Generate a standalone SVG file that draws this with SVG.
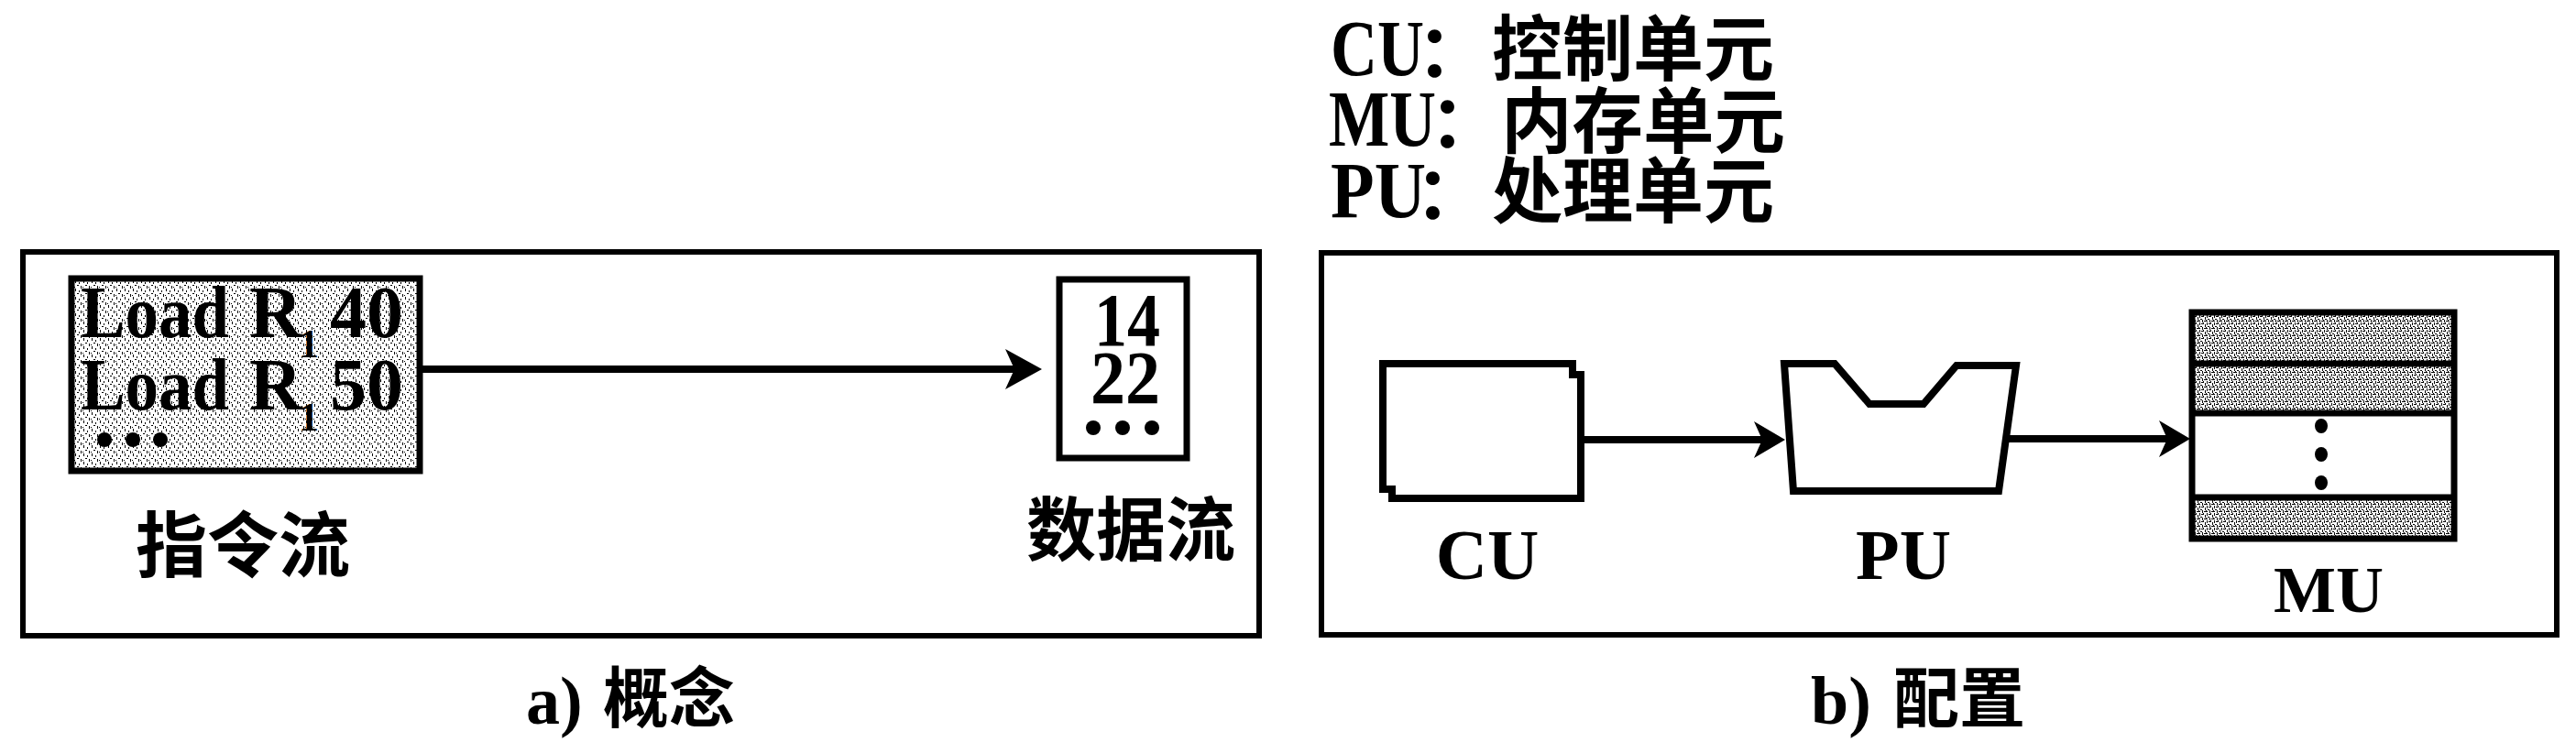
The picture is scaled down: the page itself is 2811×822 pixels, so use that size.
<svg xmlns="http://www.w3.org/2000/svg" width="2811" height="822" viewBox="0 0 2811 822">
<style>
.frame{fill:none;stroke:#000;stroke-width:6}
.box{stroke:#000;stroke-width:7}
.shape{fill:#fff;stroke:#000;stroke-width:8;stroke-linejoin:miter}
.conn{stroke:#000;stroke-width:8;fill:none}
.lat{font-family:"Liberation Serif","Times New Roman",serif;font-weight:700;fill:#000}
.cjk{font-family:"Noto Sans CJK SC","Noto Sans CJK TC",sans-serif;font-weight:700;fill:#000}
.dot{fill:#000}
</style>
<defs>
<pattern id="stipL" width="9" height="9" patternUnits="userSpaceOnUse">
<rect width="9" height="9" fill="#fff"/>
<rect x="1" y="0" width="1" height="3" fill="#000"/>
<rect x="5" y="2" width="1" height="2" fill="#000"/>
<rect x="3" y="5" width="2" height="1" fill="#000"/>
<rect x="7" y="6" width="1" height="3" fill="#000"/>
<rect x="0" y="7" width="1" height="1" fill="#000"/>
</pattern>
<pattern id="stipD" width="8" height="8" patternUnits="userSpaceOnUse">
<rect width="8" height="8" fill="#fff"/>
<rect x="0" y="0" width="1" height="3" fill="#000"/>
<rect x="2" y="1" width="2" height="1" fill="#000"/>
<rect x="4" y="0" width="1" height="2" fill="#000"/>
<rect x="6" y="2" width="1" height="3" fill="#000"/>
<rect x="1" y="4" width="2" height="1" fill="#000"/>
<rect x="3" y="5" width="1" height="3" fill="#000"/>
<rect x="5" y="6" width="2" height="1" fill="#000"/>
<rect x="7" y="5" width="1" height="2" fill="#000"/>
<rect x="0" y="6" width="1" height="1" fill="#000"/>
</pattern>
<marker id="arrBig" markerUnits="userSpaceOnUse" viewBox="0 0 40 44" markerWidth="40" markerHeight="44" refX="10" refY="22" orient="auto">
<path d="M0,0 L40,22 L0,44 L10,22 Z" fill="#000"/>
</marker>
<marker id="arrSm" markerUnits="userSpaceOnUse" viewBox="0 0 34 40" markerWidth="34" markerHeight="40" refX="9" refY="20" orient="auto">
<path d="M0,0 L34,20 L0,40 L9,20 Z" fill="#000"/>
</marker>
</defs>
<rect width="2811" height="822" fill="#fff"/>

<!-- panel a -->
<g id="panel-a">
<rect class="frame" x="25" y="275" width="1349" height="419"/>
</g>
<g id="instruction-stream">
<rect class="box" x="78" y="304" width="380" height="210" fill="url(#stipL)"/>
<text class="lat" font-size="80"><tspan x="88" y="368" textLength="162" lengthAdjust="spacingAndGlyphs">Load</tspan><tspan x="272" y="368">R</tspan><tspan x="326" y="390" font-size="44">1</tspan><tspan x="360" y="368">40</tspan><tspan x="88" y="447" textLength="162" lengthAdjust="spacingAndGlyphs">Load</tspan><tspan x="272" y="447">R</tspan><tspan x="326" y="470" font-size="44">1</tspan><tspan x="360" y="447">50</tspan></text>
<circle class="dot" cx="114" cy="480" r="8"/>
<circle class="dot" cx="145" cy="480" r="8"/>
<circle class="dot" cx="175" cy="480" r="8"/>
<text class="cjk" font-size="78" x="265" y="624" text-anchor="middle">指令流</text>
</g>
<g id="data-stream">
<rect class="box" x="1156" y="305" width="139" height="195" fill="#fff"/>
<text class="lat" font-size="82" text-anchor="middle"><tspan x="1230" y="377" textLength="72" lengthAdjust="spacingAndGlyphs">14</tspan><tspan x="1228" y="440" textLength="76" lengthAdjust="spacingAndGlyphs">22</tspan></text>
<circle class="dot" cx="1193" cy="467" r="8"/>
<circle class="dot" cx="1225" cy="467" r="8"/>
<circle class="dot" cx="1257" cy="467" r="8"/>
<text class="cjk" font-size="76" x="1234" y="606" text-anchor="middle">数据流</text>
</g>
<g id="caption-a">
<text font-size="74"><tspan class="lat" x="574" y="790">a)</tspan><tspan class="cjk" x="658" y="788" font-size="72">概念</tspan></text>
</g>

<!-- legend -->
<g id="legend">
<text class="cjk" font-size="78">
<tspan class="lat" font-size="86" x="1452" y="82" textLength="102" lengthAdjust="spacingAndGlyphs">CU</tspan><tspan x="1546" y="84">：</tspan><tspan x="1628" y="82" textLength="308" lengthAdjust="spacingAndGlyphs">控制单元</tspan>
<tspan class="lat" font-size="86" x="1450" y="159" textLength="117" lengthAdjust="spacingAndGlyphs">MU</tspan><tspan x="1560" y="161">：</tspan><tspan x="1638" y="161" textLength="310" lengthAdjust="spacingAndGlyphs">内存单元</tspan>
<tspan class="lat" font-size="86" x="1452" y="237" textLength="104" lengthAdjust="spacingAndGlyphs">PU</tspan><tspan x="1544" y="239">：</tspan><tspan x="1628" y="237" textLength="308" lengthAdjust="spacingAndGlyphs">处理单元</tspan>
</text>
</g>

<!-- panel b -->
<g id="panel-b">
<rect class="frame" x="1442" y="276" width="1348" height="417"/>
</g>
<g id="CU">
<path class="shape" d="M1509,397 H1716 V409 H1725 V544 H1519 V534 H1509 Z"/>
<text class="lat" font-size="78" x="1623" y="632" text-anchor="middle">CU</text>
</g>
<g id="PU">
<path class="shape" d="M1947,397 L2002,397 L2040,441 L2099,441 L2135,399 L2200,399 L2181,536 L1957,536 Z"/>
<text class="lat" font-size="78" x="2077" y="632" text-anchor="middle">PU</text>
</g>
<g id="MU">
<rect x="2392" y="341" width="286" height="56" fill="url(#stipD)"/>
<rect x="2392" y="397" width="286" height="54" fill="url(#stipD)"/>
<rect x="2392" y="543" width="286" height="45" fill="url(#stipD)"/>
<rect class="box" x="2392" y="341" width="286" height="247" fill="none"/>
<line class="box" x1="2392" y1="397" x2="2678" y2="397"/>
<line class="box" x1="2392" y1="451" x2="2678" y2="451"/>
<line class="box" x1="2392" y1="543" x2="2678" y2="543"/>
<ellipse class="dot" cx="2533" cy="465" rx="7" ry="8"/>
<ellipse class="dot" cx="2533" cy="496" rx="7" ry="8"/>
<ellipse class="dot" cx="2533" cy="527" rx="7" ry="8"/>
<text class="lat" font-size="72" x="2541" y="668" text-anchor="middle">MU</text>
</g>
<g id="caption-b">
<text font-size="74"><tspan class="lat" x="1976" y="790">b)</tspan><tspan class="cjk" x="2066" y="788" font-size="72">配置</tspan></text>
</g>

<g id="connectors">
<line class="conn" x1="458" y1="403" x2="1107" y2="403" marker-end="url(#arrBig)"/>
<line class="conn" x1="1725" y1="480" x2="1923" y2="480" marker-end="url(#arrSm)"/>
<line class="conn" x1="2191" y1="479" x2="2365" y2="479" marker-end="url(#arrSm)"/>
</g>
</svg>
